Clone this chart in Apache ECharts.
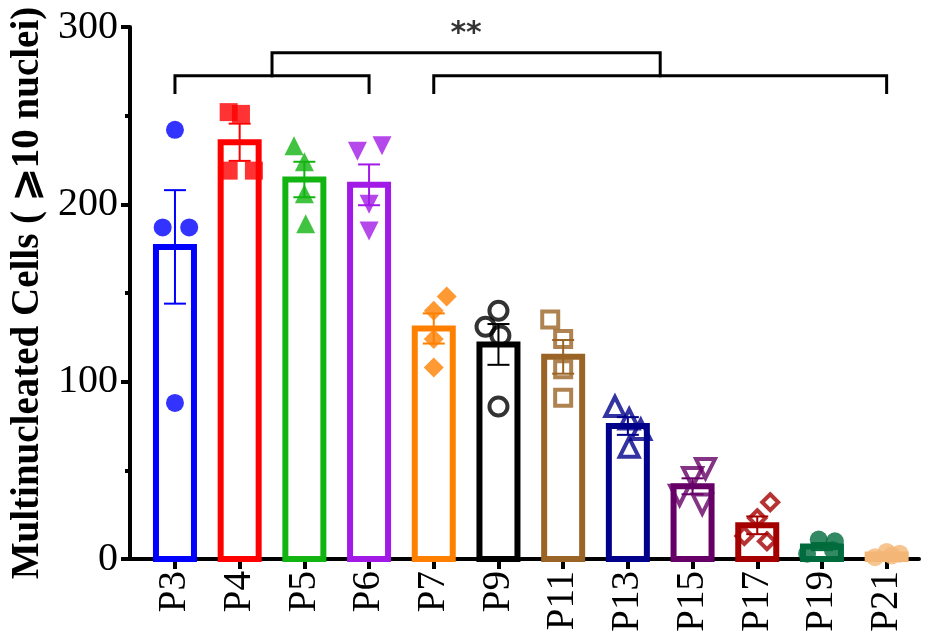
<!DOCTYPE html>
<html>
<head>
<meta charset="utf-8">
<script src="https://cdn.jsdelivr.net/npm/echarts@6/dist/echarts.min.js"></script>
<style>html,body{margin:0;padding:0;background:#fff}#c{width:925px;height:639px}</style>
</head>
<body>
<div id="c"></div>
<script>
// ---- data ----
const categories = ['P3','P4','P5','P6','P7','P9','P11','P13','P15','P17','P19','P21'];
const means = [176, 235, 214, 211, 130, 121, 114, 75, 41, 19, 7, 2.5];
const sems  = [32, 10.5, 10, 11.5, 8.5, 11.5, 9.5, 5, 4.5, 5, 2, 1];
const replicates = [
  [242, 187, 187, 88],
  [252, 251, 219, 219],
  [233, 224, 206, 189],
  [230, 233, 200, 185],
  [148, 140, 124, 108],
  [140, 131, 126, 86],
  [135, 124, 107, 91],
  [86, 79, 73, 63],
  [51, 46, 36, 31],
  [32, 23, 13, 10],
  [3, 11, 10, 5],
  [1, 4, 3, 2]
];
const jitter = [
  [0, -0.19, 0.22, 0],
  [-0.17, 0.02, -0.17, 0.22],
  [-0.16, 0, 0, 0.02],
  [-0.18, 0.2, 0, 0],
  [0.2, 0, 0, 0],
  [0, -0.2, 0.03, 0],
  [-0.2, 0, 0, 0],
  [-0.2, 0.02, 0.2, 0.02],
  [0.2, 0, -0.2, 0.15],
  [0.2, 0, -0.2, 0.15],
  [-0.23, -0.05, 0.2, 0.17],
  [-0.18, 0, 0.2, 0.08]
];
const bracketLeft  = [[0, 263], [0, 272.5], [3, 272.5], [3, 263]];
const bracketRight = [[4, 263], [4, 272.5], [11, 272.5], [11, 263]];
const bracketTop   = [[1.5, 272.5], [1.5, 285.5], [7.5, 285.5], [7.5, 272.5]];
const sigLabel = [[4.5, 296, '**']];
const yTicks = [0, 100, 200, 300];
const yTitle = 'Multinucleated Cells ( \u2A7E10 nuclei)';

// ---- styles ----
const colors = ['#0000FF','#FF0000','#12B412','#A21AE6','#FF8000','#000000','#9A6426','#00008B','#660066','#A50000','#006B3C','#F4B677'];
const symbols = ['circle','rect','triangle','triangle','diamond','circle','rect','triangle','triangle','diamond','circle','circle'];
const rotates = [0,0,0,180,0,0,0,0,180,0,0,0];
const hollow = [false,false,false,false,false,true,true,true,true,true,false,false];
const sizes = [18,18,19,19,20,18,16,19,19,16,18,18];

const chart = echarts.init(document.getElementById('c'), null, {renderer: 'canvas'});
const idx = categories.map((_, i) => i);
const serif = '"Liberation Serif","Times New Roman",serif';

const series = [];
// hollow bars
series.push({
  type: 'custom',
  z: 2,
  silent: true,
  data: means.map((m, i) => [i, m]),
  renderItem: function (params, api) {
    const x = api.value(0), m = api.value(1);
    const p1 = api.coord([x, m]);
    const p0 = api.coord([x, 0]);
    const w = 38;
    return {type: 'rect',
      shape: {x: p1[0] - w / 2, y: p1[1], width: w, height: p0[1] - p1[1]},
      style: {fill: '#fff', stroke: colors[params.dataIndex], lineWidth: 6, lineJoin: 'miter'}};
  }
});
replicates.forEach((vals, i) => {
  series.push({
    type: 'scatter',
    z: 3,
    symbol: symbols[i],
    symbolRotate: rotates[i],
    symbolSize: sizes[i],
    itemStyle: hollow[i]
      ? {color: 'rgba(0,0,0,0)', borderColor: colors[i], borderWidth: 4}
      : {color: colors[i]},
    data: vals.map((v, k) => [i + jitter[i][k], v])
  });
});
series.push({
  type: 'custom',
  z: 4,
  data: means.map((m, i) => [i, m, sems[i]]),
  renderItem: function (params, api) {
    const x = api.value(0), m = api.value(1), s = api.value(2);
    const top = api.coord([x, m + s]);
    const bot = api.coord([x, m - s]);
    const c = colors[params.dataIndex];
    const hw = 11;
    const st = {stroke: c, lineWidth: 2};
    return {type: 'group', children: [
      {type: 'line', shape: {x1: top[0], y1: top[1], x2: bot[0], y2: bot[1]}, style: st},
      {type: 'line', shape: {x1: top[0]-hw, y1: top[1], x2: top[0]+hw, y2: top[1]}, style: st},
      {type: 'line', shape: {x1: bot[0]-hw, y1: bot[1], x2: bot[0]+hw, y2: bot[1]}, style: st}
    ]};
  }
});
[bracketLeft, bracketRight, bracketTop].forEach(b => {
  series.push({
    type: 'line', z: 5, symbol: 'none', data: b,
    lineStyle: {color: '#000', width: 3, cap: 'square', join: 'miter'}
  });
});
series.push({
  type: 'scatter', z: 5, symbolSize: 0, data: sigLabel,
  label: {show: true, position: 'inside', formatter: p => p.data[2],
    fontSize: 30, fontWeight: 'bold', color: '#000', fontFamily: '"DejaVu Sans",sans-serif'}
});

chart.setOption({
  animation: false,
  backgroundColor: '#fff',
  grid: {left: 130, right: 6, top: 27, bottom: 80, containLabel: false, outerBoundsMode: 'none'},
  xAxis: {
    type: 'value', min: -0.695, max: 11.5,
    splitLine: {show: false},
    axisLine: {show: true, onZero: false, lineStyle: {color: '#000', width: 4}},
    axisTick: {show: true, customValues: idx, length: 10, lineStyle: {color: '#000', width: 4}},
    axisLabel: {show: true, customValues: idx, formatter: v => categories[Math.round(v)],
      rotate: 90, margin: 12, fontSize: 39, fontFamily: serif, color: '#000'}
  },
  yAxis: {
    type: 'value', min: 0, max: 300, interval: 100,
    splitLine: {show: false},
    axisLine: {show: true, onZero: false, lineStyle: {color: '#000', width: 4}},
    axisTick: {show: true, length: 9, lineStyle: {color: '#000', width: 4}},
    minorTick: {show: true, splitNumber: 2, length: 5, lineStyle: {color: '#000', width: 4}},
    axisLabel: {margin: 12, fontSize: 40, fontFamily: serif, color: '#000',
      customValues: yTicks},
    name: yTitle, nameLocation: 'middle', nameRotate: 90, nameGap: 80,
    nameTextStyle: {fontSize: 39, fontWeight: 'bold', fontFamily: serif, color: '#000'}
  },
  series: series
});
</script>
</body>
</html>
